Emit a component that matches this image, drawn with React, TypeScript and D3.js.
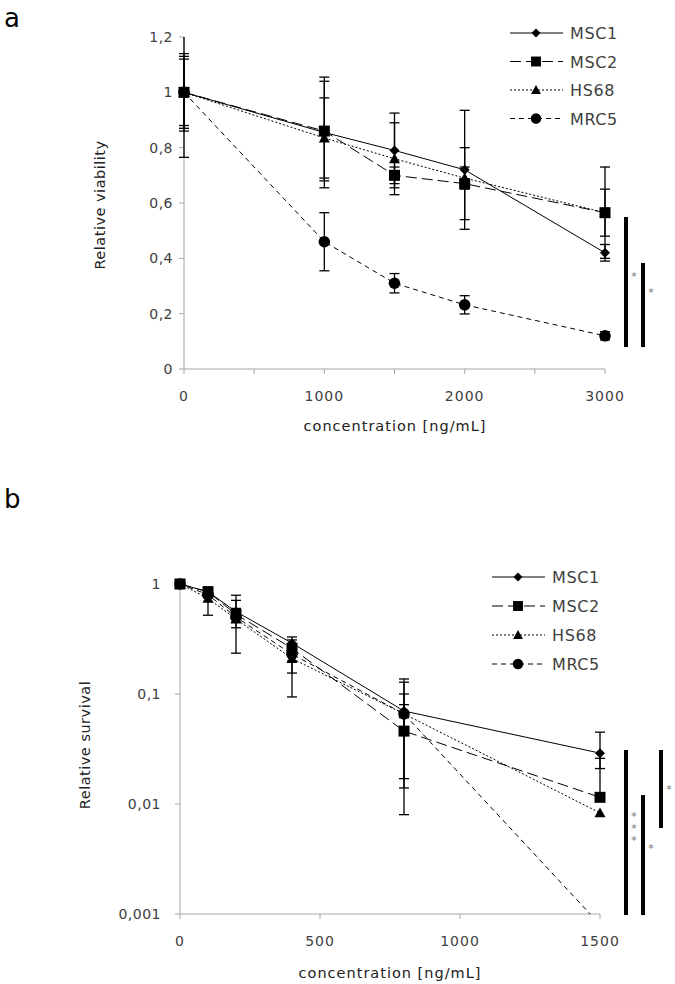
import React from "react";
import * as d3 from "d3";

// ---------- Panel a data ----------
const concA = [0, 1000, 1500, 2000, 3000];
const aMSC1 = [1, 0.855, 0.79, 0.72, 0.42];
const aMSC2 = [1, 0.86, 0.7, 0.67, 0.565];
const aHS68 = [1, 0.835, 0.76, 0.69, 0.565];
const aMRC5 = [1, 0.46, 0.31, 0.232, 0.12];
const aErrMSC1 = [0.13, 0.2, 0.135, 0.215, 0.03];
const aErrMSC2 = [0.235, 0.18, 0.03, 0.13, 0.165];
const aErrHS68 = [0.12, 0.145, 0.13, 0.04, 0.085];
const aErrMRC5 = [0.14, 0.105, 0.035, 0.033, 0.015];
const yTicksA = [0, 0.2, 0.4, 0.6, 0.8, 1, 1.2];
const xTicksA = [0, 1000, 2000, 3000];
const xMinorA = [500, 1500, 2500];

// ---------- Panel b data ----------
const concB = [0, 100, 200, 400, 800, 1500];
const bMSC1 = [1, 0.85, 0.56, 0.29, 0.07, 0.029];
const bMSC2 = [1, 0.85, 0.53, 0.26, 0.046, 0.0115];
const bHS68 = [1, 0.74, 0.48, 0.21, 0.066, 0.0083];
const bMRC5 = [1, 0.8, 0.5, 0.23, 0.066, 0.0008];
const bHiMSC1 = [1, 0.9, 0.71, 0.33, 0.128, 0.045];
const bLoMSC1 = [1, 0.8, 0.45, 0.25, 0.017, 0.021];
const bHiMSC2 = [1, 0.94, 0.79, 0.31, 0.137, 0.026];
const bLoMSC2 = [1, 0.78, 0.235, 0.155, 0.008, 0.0115];
const bHiHS68 = [1, 0.8, 0.6, 0.25, 0.1, 0.0083];
const bLoHS68 = [1, 0.52, 0.4, 0.094, 0.014, 0.0083];
const bHiMRC5 = [1, 0.85, 0.55, 0.26, 0.08, 0.0008];
const bLoMRC5 = [1, 0.75, 0.45, 0.2, 0.05, 0.0008];
const yTicksB = [1, 0.1, 0.01, 0.001];
const xTicksB = [0, 500, 1000, 1500];

const seriesNames = ["MSC1", "MSC2", "HS68", "MRC5"];
const seriesMarkers = ["diamond", "square", "triangle", "circle"];
const seriesDash = ["none", "11,5", "2,2", "5,4"];

const FONT = "DejaVu Sans, Verdana, sans-serif";
const AXIS = "#a6a6a6";
const TXT = "#404040";

function Marker({ type, x, y, s = 1 }: { type: string; x: number; y: number; s?: number }) {
  if (type === "diamond") {
    const r = 5 * s;
    return <path d={`M${x},${y - r}L${x + r},${y}L${x},${y + r}L${x - r},${y}Z`} fill="#000" />;
  }
  if (type === "square") {
    const r = 5.5 * s;
    return <rect x={x - r} y={y - r} width={2 * r} height={2 * r} fill="#000" />;
  }
  if (type === "triangle") {
    const r = 5.5 * s;
    return <path d={`M${x},${y - r}L${x + r},${y + r * 0.8}L${x - r},${y + r * 0.8}Z`} fill="#000" />;
  }
  return <circle cx={x} cy={y} r={5.8 * s} fill="#000" />;
}

function fmtComma(v: number) {
  return String(v).replace(".", ",");
}

function Legend({ x, y, dy }: { x: number; y: number; dy: number }) {
  return (
    <g>
      {seriesNames.map((n, i) => (
        <g key={n} transform={`translate(${x},${y + i * dy})`}>
          <line x1={0} x2={53} y1={0} y2={0} stroke="#000" strokeWidth={1} strokeDasharray={seriesDash[i]} />
          <Marker type={seriesMarkers[i]} x={26} y={0} s={0.9} />
          <text x={60} y={6} fontSize={16} fill={TXT} fontFamily={FONT} letterSpacing={0.6}>{n}</text>
        </g>
      ))}
    </g>
  );
}

function SigBar({ x, y1, y2, label, ty }: { x: number; y1: number; y2: number; label: string; ty: number }) {
  return (
    <g>
      <line x1={x} x2={x} y1={y1} y2={y2} stroke="#000" strokeWidth={4} />
      {label.split("").map((c, i) => (
        <text key={i} x={x + 8} y={ty + i * 12} fontSize={11} fill="#777" fontFamily={FONT} textAnchor="middle">{c}</text>
      ))}
    </g>
  );
}

function PanelA() {
  const x = d3.scaleLinear().domain([0, 3000]).range([184, 605]);
  const y = d3.scaleLinear().domain([0, 1.2]).range([369, 37]);
  const vals = [aMSC1, aMSC2, aHS68, aMRC5];
  const errs = [aErrMSC1, aErrMSC2, aErrHS68, aErrMRC5];
  const line = d3.line<number>().x((_, i) => x(concA[i])).y((d) => y(d));
  const yc = (v: number) => y(Math.max(0, Math.min(1.2, v)));
  return (
    <g>
      <text x={4} y={27} fontSize={26} fontFamily={FONT} fill="#000">a</text>
      <line x1={x(0)} x2={x(3000)} y1={y(0)} y2={y(0)} stroke={AXIS} />
      <line x1={x(0)} x2={x(0)} y1={y(0)} y2={y(1.2)} stroke={AXIS} />
      {yTicksA.map((t) => (
        <g key={t}>
          <line x1={x(0) - 5} x2={x(0)} y1={y(t)} y2={y(t)} stroke={AXIS} />
          <text x={x(0) - 11} y={y(t) + 5} fontSize={14} textAnchor="end" fill={TXT} fontFamily={FONT} letterSpacing={0.5}>{fmtComma(t)}</text>
        </g>
      ))}
      {[...xTicksA, ...xMinorA].map((t) => (
        <line key={t} x1={x(t)} x2={x(t)} y1={y(0)} y2={y(0) + 5} stroke={AXIS} />
      ))}
      {xTicksA.map((t) => (
        <text key={t} x={x(t)} y={401} fontSize={14} textAnchor="middle" fill={TXT} fontFamily={FONT} letterSpacing={1}>{t}</text>
      ))}
      <text x={395} y={431} fontSize={14.5} textAnchor="middle" fill="#222" fontFamily={FONT} letterSpacing={1}>concentration [ng/mL]</text>
      <text transform={`translate(105,205) rotate(-90)`} fontSize={14.5} textAnchor="middle" fill="#222" fontFamily={FONT} letterSpacing={0.5}>Relative viability</text>
      {vals.map((s, si) =>
        s.map((v, i) => {
          const e = errs[si][i];
          const px = x(concA[i]);
          const hi = v + e;
          const lo = v - e;
          return (
            <g key={`${si}-${i}`} stroke="#000" strokeWidth={1.3}>
              <line x1={px} x2={px} y1={yc(hi)} y2={yc(lo)} />
              {hi <= 1.2 && <line x1={px - 5} x2={px + 5} y1={y(hi)} y2={y(hi)} />}
              <line x1={px - 5} x2={px + 5} y1={yc(lo)} y2={yc(lo)} />
            </g>
          );
        })
      )}
      {vals.map((s, si) => (
        <path key={si} d={line(s) || ""} fill="none" stroke="#000" strokeWidth={1} strokeDasharray={seriesDash[si]} />
      ))}
      {vals.map((s, si) =>
        s.map((v, i) => <Marker key={`${si}-${i}`} type={seriesMarkers[si]} x={x(concA[i])} y={y(v)} />)
      )}
      <Legend x={510} y={33} dy={28.5} />
      <SigBar x={626} y1={217} y2={347} label="*" ty={280} />
      <SigBar x={643} y1={263} y2={347} label="*" ty={296} />
    </g>
  );
}

function PanelB() {
  const x = d3.scaleLinear().domain([0, 1500]).range([180, 600]);
  const y = d3.scaleLog().domain([0.001, 1]).range([914, 584]);
  const vals = [bMSC1, bMSC2, bHS68, bMRC5];
  const his = [bHiMSC1, bHiMSC2, bHiHS68, bHiMRC5];
  const los = [bLoMSC1, bLoMSC2, bLoHS68, bLoMRC5];
  const line = d3.line<number>().x((_, i) => x(concB[i])).y((d) => y(d));
  const inside = (v: number) => v >= 0.001;
  return (
    <g>
      <text x={4} y={508} fontSize={26} fontFamily={FONT} fill="#000">b</text>
      <defs>
        <clipPath id="clipB">
          <rect x={150} y={560} width={480} height={354} />
        </clipPath>
      </defs>
      <line x1={x(0)} x2={x(1500)} y1={y(0.001)} y2={y(0.001)} stroke={AXIS} />
      <line x1={x(0)} x2={x(0)} y1={y(0.001)} y2={y(1)} stroke={AXIS} />
      {yTicksB.map((t) => (
        <g key={t}>
          <line x1={x(0) - 5} x2={x(0)} y1={y(t)} y2={y(t)} stroke={AXIS} />
          <text x={x(0) - 19} y={y(t) + 5} fontSize={14} textAnchor="end" fill={TXT} fontFamily={FONT} letterSpacing={0.5}>{fmtComma(t)}</text>
        </g>
      ))}
      {xTicksB.map((t) => (
        <g key={t}>
          <line x1={x(t)} x2={x(t)} y1={y(0.001)} y2={y(0.001) + 5} stroke={AXIS} />
          <text x={x(t)} y={946} fontSize={14} textAnchor="middle" fill={TXT} fontFamily={FONT} letterSpacing={1}>{t}</text>
        </g>
      ))}
      <text x={390} y={978} fontSize={14.5} textAnchor="middle" fill="#222" fontFamily={FONT} letterSpacing={1}>concentration [ng/mL]</text>
      <text transform={`translate(90,745) rotate(-90)`} fontSize={14.5} textAnchor="middle" fill="#222" fontFamily={FONT} letterSpacing={0.5}>Relative survival</text>
      <g clipPath="url(#clipB)">
        {vals.map((s, si) =>
          s.map((v, i) => {
            if (!inside(v)) return null;
            const px = x(concB[i]);
            const hi = his[si][i];
            const lo = los[si][i];
            if (hi === lo) return null;
            return (
              <g key={`${si}-${i}`} stroke="#000" strokeWidth={1.3}>
                <line x1={px} x2={px} y1={y(hi)} y2={y(lo)} />
                <line x1={px - 5} x2={px + 5} y1={y(hi)} y2={y(hi)} />
                <line x1={px - 5} x2={px + 5} y1={y(lo)} y2={y(lo)} />
              </g>
            );
          })
        )}
        {vals.map((s, si) => (
          <path key={si} d={line(s) || ""} fill="none" stroke="#000" strokeWidth={1} strokeDasharray={seriesDash[si]} />
        ))}
        {vals.map((s, si) =>
          s.map((v, i) =>
            inside(v) ? <Marker key={`${si}-${i}`} type={seriesMarkers[si]} x={x(concB[i])} y={y(v)} /> : null
          )
        )}
      </g>
      <Legend x={492} y={577} dy={29} />
      <SigBar x={626} y1={750} y2={915} label="***" ty={820} />
      <SigBar x={643} y1={795} y2={915} label="*" ty={852} />
      <SigBar x={661} y1={750} y2={828} label="*" ty={793} />
    </g>
  );
}

export default function App() {
  return (
    <svg width={675} height={984} style={{ position: "absolute", left: 0, top: 0, background: "#fff" }}>
      <rect width={675} height={984} fill="#fff" />
      <PanelA />
      <PanelB />
    </svg>
  );
}
